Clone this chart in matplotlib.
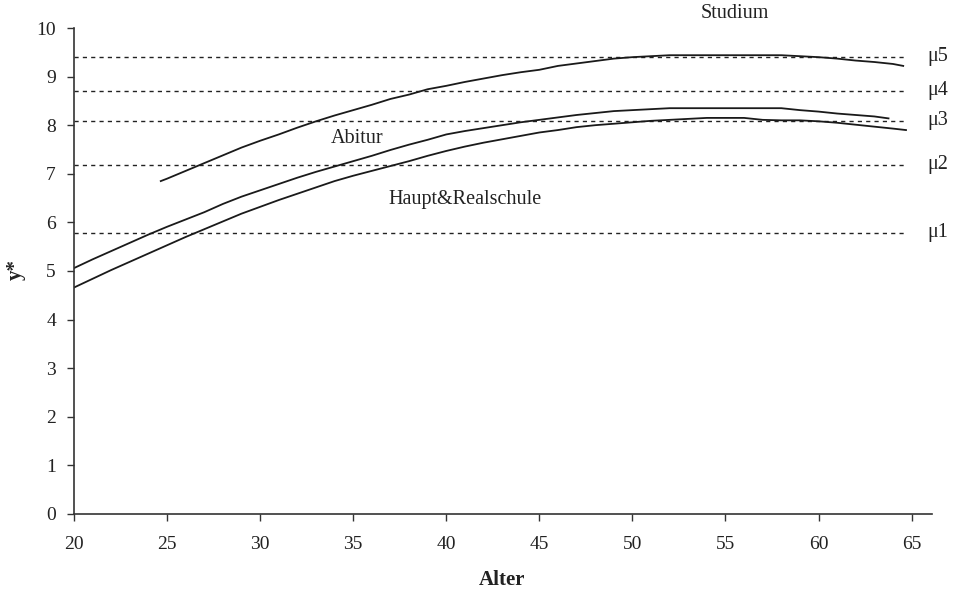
import matplotlib.pyplot as plt

plt.rcParams['font.family'] = ['Liberation Serif', 'DejaVu Serif']

# Schwellenwerte mu1..mu5
mu_namen = ['\u03bc1', '\u03bc2', '\u03bc3', '\u03bc4', '\u03bc5']
mu_werte = [5.79, 7.19, 8.09, 8.71, 9.41]

# Haupt- und Realschule
alter_hr = [20, 21, 22, 23, 24, 25, 26, 27, 28, 29, 30, 31, 32, 33, 34, 35, 36, 37,
            38, 39, 40, 41, 42, 43, 44, 45, 46, 47, 48, 49, 50, 51, 52, 53, 54, 55,
            56, 57, 58, 59, 60, 61, 62, 63, 64, 64.7]
y_hr = [4.66, 4.84, 5.02, 5.19, 5.36, 5.53, 5.70, 5.86, 6.02, 6.18, 6.32, 6.46,
        6.59, 6.72, 6.85, 6.96, 7.06, 7.16, 7.26, 7.37, 7.47, 7.56, 7.64, 7.71,
        7.78, 7.85, 7.90, 7.96, 8.00, 8.03, 8.06, 8.09, 8.11, 8.13, 8.15, 8.15,
        8.15, 8.11, 8.10, 8.10, 8.08, 8.05, 8.01, 7.97, 7.93, 7.90]

# Abitur
alter_abi = [20, 21, 22, 23, 24, 25, 26, 27, 28, 29, 30, 31, 32, 33, 34, 35, 36, 37,
             38, 39, 40, 41, 42, 43, 44, 45, 46, 47, 48, 49, 50, 51, 52, 53, 54, 55,
             56, 57, 58, 59, 60, 61, 62, 63, 63.76]
y_abi = [5.06, 5.24, 5.41, 5.58, 5.75, 5.91, 6.06, 6.21, 6.38, 6.53, 6.66, 6.79,
         6.92, 7.04, 7.15, 7.26, 7.37, 7.49, 7.60, 7.70, 7.81, 7.88, 7.94, 8.00,
         8.06, 8.11, 8.16, 8.21, 8.25, 8.29, 8.31, 8.33, 8.35, 8.35, 8.35, 8.35,
         8.35, 8.35, 8.35, 8.31, 8.28, 8.24, 8.21, 8.18, 8.14]

# Studium
alter_stud = [24.66, 25, 26, 27, 28, 29, 30, 31, 32, 33, 34, 35, 36, 37, 38, 39, 40,
              41, 42, 43, 44, 45, 46, 47, 48, 49, 50, 51, 52, 53, 54, 55, 56, 57,
              58, 59, 60, 61, 62, 63, 64, 64.55]
y_stud = [6.85, 6.90, 7.06, 7.22, 7.38, 7.54, 7.68, 7.81, 7.95, 8.08, 8.20, 8.31,
          8.42, 8.54, 8.63, 8.74, 8.81, 8.89, 8.96, 9.03, 9.09, 9.14, 9.22, 9.27,
          9.32, 9.37, 9.40, 9.42, 9.44, 9.44, 9.44, 9.44, 9.44, 9.44, 9.44, 9.42,
          9.40, 9.37, 9.33, 9.30, 9.26, 9.22]

fig = plt.figure(figsize=(9.54, 5.92), dpi=100)
ax = fig.add_axes([0.0776, 0.1318, 0.8994, 0.8209])

for m, name in zip(mu_werte, mu_namen):
    ax.plot([20, 64.7], [m, m], color='#222222', lw=1.0, linestyle=(0, (3, 3)))
    ax.text(65.85, m, name, fontsize=14.5, va='center', ha='left', color='#222222',
            clip_on=False)

for x, y in [(alter_hr, y_hr), (alter_abi, y_abi), (alter_stud, y_stud)]:
    ax.plot(x, y, color='#1a1a1a', lw=1.3)

ax.text(55.5, 10.3, 'Studium', fontsize=14.5, ha='center', va='center', color='#222222',
        clip_on=False)
ax.text(35.2, 7.72, 'Abitur', fontsize=14.5, ha='center', va='center', color='#222222')
ax.text(41.0, 6.48, 'Haupt&Realschule', fontsize=14.5, ha='center', va='center',
        color='#222222')

ax.set_xlim(20, 66.1)
ax.set_ylim(0, 10)
ax.set_xticks(range(20, 66, 5))
ax.set_yticks(range(0, 11))
for s in ['top', 'right']:
    ax.spines[s].set_visible(False)
for s in ['left', 'bottom']:
    ax.spines[s].set_color('#333333')
    ax.spines[s].set_linewidth(1.2)
ax.tick_params(direction='out', length=5, width=1, colors='#333333',
               labelsize=14, labelcolor='#222222')
ax.tick_params(axis='y', pad=8)
ax.tick_params(axis='x', pad=11)

# Achsentitel
fig.text(0.526, 0.0203, 'Alter', fontsize=15, fontweight='bold', color='#222222',
         ha='center', va='center')
fig.text(0.0168, 0.544, 'y*', fontsize=15, fontweight='bold', color='#222222',
         ha='center', va='center', rotation=90)

fig.savefig('out.png', dpi=100)
